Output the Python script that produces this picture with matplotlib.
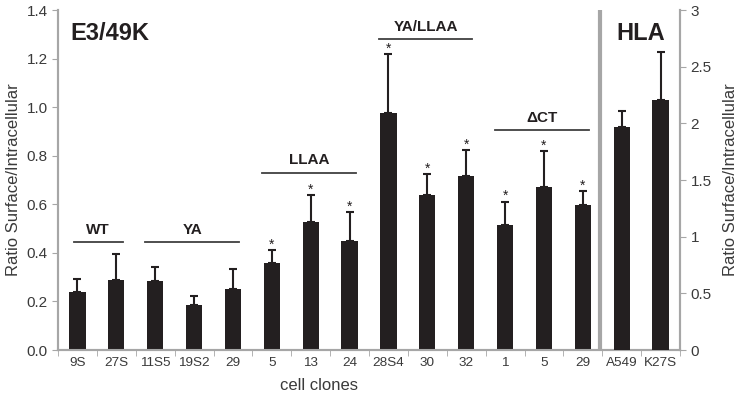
import numpy as np
import matplotlib.pyplot as plt

plt.rcParams['font.family'] = ['Liberation Sans', 'DejaVu Sans']

# E3/49K clones (left axis)
clones = ['9S', '27S', '11S5', '19S2', '29', '5', '13', '24',
          '28S4', '30', '32', '1', '5', '29']
ratio = [0.239, 0.288, 0.285, 0.185, 0.252, 0.357, 0.527, 0.449,
         0.976, 0.640, 0.716, 0.515, 0.670, 0.598]
err_top = [0.293, 0.395, 0.342, 0.222, 0.334, 0.412, 0.638, 0.568,
           1.218, 0.724, 0.823, 0.610, 0.818, 0.655]
signif = [False, False, False, False, False, True, True, True,
          True, True, True, True, True, True]

# HLA (right axis)
hla_cells = ['A549', 'K27S']
hla_ratio = [1.97, 2.21]
hla_err_top = [2.105, 2.63]

# groups: label, first clone, last clone, height of the line
groups = [('WT', 0, 1, 0.445), ('YA', 2, 4, 0.445),
          ('LLAA', 5, 7, 0.73), ('YA/LLAA', 8, 10, 1.28),
          ('\u0394CT', 11, 13, 0.905)]

bar_c = '#231f20'
axis_c = '#a6a6a6'
txt_c = '#3a3a3a'

fig = plt.figure(figsize=(7.42, 4.03), dpi=100)
ax = fig.add_axes([58/742, 1-350/403, 622/742, 340/403])
ax2 = ax.twinx()

x = np.arange(len(clones))
xh = np.arange(len(clones), len(clones)+len(hla_cells))
w = 0.42

ax.bar(x, ratio, width=w, color=bar_c, zorder=3)
ax.errorbar(x, ratio, yerr=[np.zeros(len(ratio)), np.array(err_top)-np.array(ratio)],
            fmt='none', ecolor=bar_c, elinewidth=1.5, capsize=3, capthick=1.5, zorder=3)
ax2.bar(xh, hla_ratio, width=w, color=bar_c, zorder=3)
ax2.errorbar(xh, hla_ratio, yerr=[np.zeros(2), np.array(hla_err_top)-np.array(hla_ratio)],
             fmt='none', ecolor=bar_c, elinewidth=1.5, capsize=3, capthick=1.5, zorder=3)

for i, s in enumerate(signif):
    if s:
        ax.annotate('*', (x[i], err_top[i]), xytext=(0, -1), textcoords='offset points',
                    ha='center', va='bottom', fontsize=10, color=bar_c)

for lab, a, b, h in groups:
    left = a - (0.1 if a == 0 else 0.25)
    ax.plot([left, b+0.16], [h, h], color='#404040', lw=1.3, clip_on=False)
    ax.text((left+b+0.16)/2, h+0.022, lab, ha='center', va='bottom', fontsize=11,
            fontweight='bold', color=bar_c)

ax.set_xlim(-0.5, 15.5)
ax.set_ylim(0, 1.4)
ax2.set_ylim(0, 3)
ax.set_yticks(np.arange(0, 1.41, 0.2))
ax.set_yticklabels(['%.1f' % v for v in np.arange(0, 1.41, 0.2)])
ax2.set_yticks([0, 0.5, 1, 1.5, 2, 2.5, 3])
ax2.set_yticklabels(['0', '0.5', '1', '1.5', '2', '2.5', '3'])

ax.set_xticks(np.concatenate([x, xh]))
ax.set_xticklabels(clones + hla_cells)
ax.set_xticks(np.arange(-0.5, 15.6, 1), minor=True)
ax.tick_params(axis='x', which='major', length=0, pad=5, labelsize=9.7, labelcolor=txt_c)
ax.tick_params(axis='x', which='minor', length=4, color=axis_c, direction='out')
ax.tick_params(axis='y', length=4, color=axis_c, labelsize=11, labelcolor=txt_c)
ax2.tick_params(axis='y', length=4, color=axis_c, labelsize=11, labelcolor=txt_c)

for a in (ax, ax2):
    a.spines['top'].set_visible(False)
    for sp in ('left', 'right', 'bottom'):
        a.spines[sp].set_color(axis_c)
        a.spines[sp].set_linewidth(1.5)

ax.axvline(13.43, color=axis_c, lw=3, zorder=2)

ax.set_ylabel('Ratio Surface/Intracellular', fontsize=12, color=txt_c)
ax2.set_ylabel('Ratio Surface/Intracellular', fontsize=12, color=txt_c, labelpad=8)
fig.text(319/742, 1-385/403, 'cell clones', ha='center', va='center', fontsize=12, color=txt_c)

ax.text(0.02, 0.93, 'E3/49K', transform=ax.transAxes, fontsize=17, fontweight='bold',
        color=bar_c, va='center')
ax.text(14.5, 1.305, 'HLA', ha='center', va='center', fontsize=17, fontweight='bold',
        color=bar_c)

fig.savefig('out.png', dpi=100)
